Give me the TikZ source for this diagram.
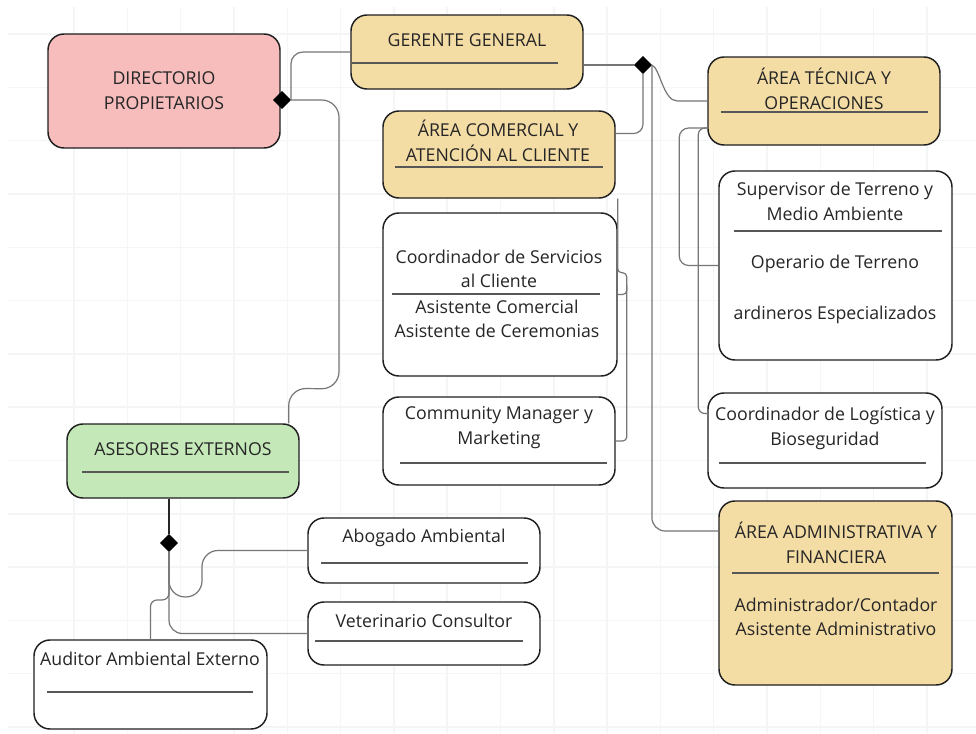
\documentclass[tikz,border=0pt]{standalone}
\usepackage{fontspec}
\setmainfont{Open Sans}
\usetikzlibrary{shapes.geometric,calc}
\definecolor{pinkbox}{RGB}{247,188,188}
\definecolor{tanbox}{RGB}{244,221,165}
\definecolor{greenbox}{RGB}{196,232,184}
\definecolor{gridcol}{RGB}{243,246,245}
\definecolor{conncol}{RGB}{118,118,118}
\definecolor{textcol}{RGB}{38,38,38}
\begin{document}
\begin{tikzpicture}[
  x=0.75pt, y=-0.75pt,
  box/.style={rectangle, rounded corners=12pt, draw=black!88, line width=1.1pt, fill=white, minimum width=174pt, inner sep=0pt},
  lbl/.style={align=center, font=\fontsize{13.3}{18.5}\selectfont, text=textcol, inner sep=0pt},
  rule/.style={draw=black!66, line width=0.8pt},
  conn/.style={draw=conncol, line width=0.9pt},
  knot/.style={diamond, fill=black, draw=black, minimum size=13pt, inner sep=0pt},
  gridrule/.style={draw=gridcol, line width=1.1pt},
]
\useasboundingbox (0,0) rectangle (976,733);
\fill[white] (0,0) rectangle (976,733);
\foreach \i in {0,...,16}
  \draw[gridrule] ({74.1+53.3*\i},7) -- ({74.1+53.3*\i},733);
\foreach \j in {0,...,13}
  \draw[gridrule] (8,{34.1+53.3*\j}) -- (976,{34.1+53.3*\j});

% boxes
\node[box, fill=pinkbox, minimum height=85.5pt] (dir) at (164,91) {};
\node[box, fill=tanbox, minimum height=55.5pt] (ger) at (467,52) {};
\node[box, fill=tanbox, minimum height=65.25pt] (com) at (499,154.5) {};
\node[box, fill=tanbox, minimum height=66pt] (tec) at (824,101) {};
\node[box, minimum width=174.75pt, minimum height=141.75pt] (sup) at (835.5,265.5) {};
\node[box, minimum width=175.5pt, minimum height=122.25pt] (serv) at (500,294.5) {};
\node[box, minimum height=66pt] (cm) at (499,441) {};
\node[box, fill=greenbox, minimum height=55.5pt] (ase) at (183,461) {};
\node[box, minimum height=48.75pt] (abo) at (424,550.5) {};
\node[box, minimum height=47.25pt] (vet) at (424,633.5) {};
\node[box, minimum width=174.75pt, minimum height=66.75pt] (aud) at (150.5,684.5) {};
\node[box, minimum width=175.5pt, minimum height=71.25pt] (log) at (825,440.5) {};
\node[box, fill=tanbox, minimum width=174.75pt, minimum height=138pt] (adm) at (835.5,593) {};

% texts
\node[lbl] (dir-t) at (164,90.5) {DIRECTORIO\\PROPIETARIOS};
\node[lbl] (ger-t) at (467,40) {GERENTE GENERAL};
\node[lbl] (com-t) at (498,140.5) {ÁREA COMERCIAL Y\\ATENCIÓN AL CLIENTE};
\node[lbl] (tec-t) at (824,89) {ÁREA TÉCNICA Y\\OPERACIONES};
\node[lbl] (sup-t) at (835,201.5) {Supervisor de Terreno y\\Medio Ambiente};
\node[lbl] (sup-o) at (835,264) {Operario de Terreno};
\node[lbl] (sup-j) at (835,315) {ardineros Especializados};
\node[lbl] (serv-t) at (499,269) {Coordinador de Servicios\\al Cliente};
\node[lbl] (serv-a) at (497,319) {Asistente Comercial\\Asistente de Ceremonias};
\node[lbl] (cm-t) at (499,427.5) {Community Manager y\\Marketing};
\node[lbl] (ase-t) at (183,449) {ASESORES EXTERNOS};
\node[lbl] (abo-t) at (424,538) {Abogado Ambiental};
\node[lbl] (vet-t) at (424,621) {Veterinario Consultor};
\node[lbl] (aud-t) at (150,659) {Auditor Ambiental Externo};
\node[lbl] (log-t) at (825,428) {Coordinador de Logística y\\Bioseguridad};
\node[lbl] (adm-t) at (836,543) {ÁREA ADMINISTRATIVA Y\\FINANCIERA};
\node[lbl] (adm-a) at (836,617) {Administrador/Contador\\Asistente Administrativo};

% dividers
\draw[rule] (352,63) -- (558,63);
\draw[rule] (395,167) -- (603,167);
\draw[rule] (721,112) -- (928,112);
\draw[rule] (734,231) -- (942,231);
\draw[rule] (392,294) -- (600,294);
\draw[rule] (400,463) -- (607,463);
\draw[rule] (82,472) -- (289,472);
\draw[rule] (321,563) -- (528,563);
\draw[rule] (315,641) -- (523,641);
\draw[rule] (47,692) -- (253,692);
\draw[rule] (719,463) -- (926,463);
\draw[rule] (732,573) -- (939,573);

% joints
\node[knot] (d1) at (282,100) {};
\node[knot] (d2) at (643,65) {};
\node[knot] (d3) at (169,543) {};

% connectors
\draw[conn, rounded corners=9pt] (d1.east) |- (ger.west);
\draw[conn, rounded corners=13pt] (ase.north east) ++(-11,0) -- ++(0,-35) -- (339,389) -- (339,100) -- (d1.east);
\draw[conn] (ger.east |- d2.west) -- (d2.west);
\draw[conn, rounded corners=7pt] (com.east) ++(0,-21) -| (d2.south);
\draw[conn, rounded corners=10pt] (adm.west) ++(0,-62) -| (d2.east);
\draw[conn] (d2.east) .. controls +(8,3) and +(-14,0) .. ($(tec.west)+(-30,0)$) -- (tec.west);
\draw[conn, rounded corners=7pt] (tec.west) ++(0,27) -- ++(-28,0) |- (sup.west);
\draw[conn, rounded corners=5pt] (tec.west) ++(0,27) -- ++(-9,0) |- ($(log.west)+(0,-27)$);
\draw[conn, rounded corners=3pt] (com.south east) ++(2,0) -- ++(0,74) -- ++(9,0) |- (serv.east);
\draw[conn, rounded corners=3pt] (serv.east) ++(9,-10) |- (cm.east);
\draw[conn, draw=black!85] (ase.south -| d3.north) -- (d3.north);
\draw[conn, rounded corners=12pt] (d3.south) -- ++(0,45) -- ++(33,0) |- (abo.west);
\draw[conn, rounded corners=10pt] (d3.south) |- (vet.west);
\draw[conn, rounded corners=5pt] (d3.south) -- ++(0,48) -| (aud.north);
\end{tikzpicture}
\end{document}
